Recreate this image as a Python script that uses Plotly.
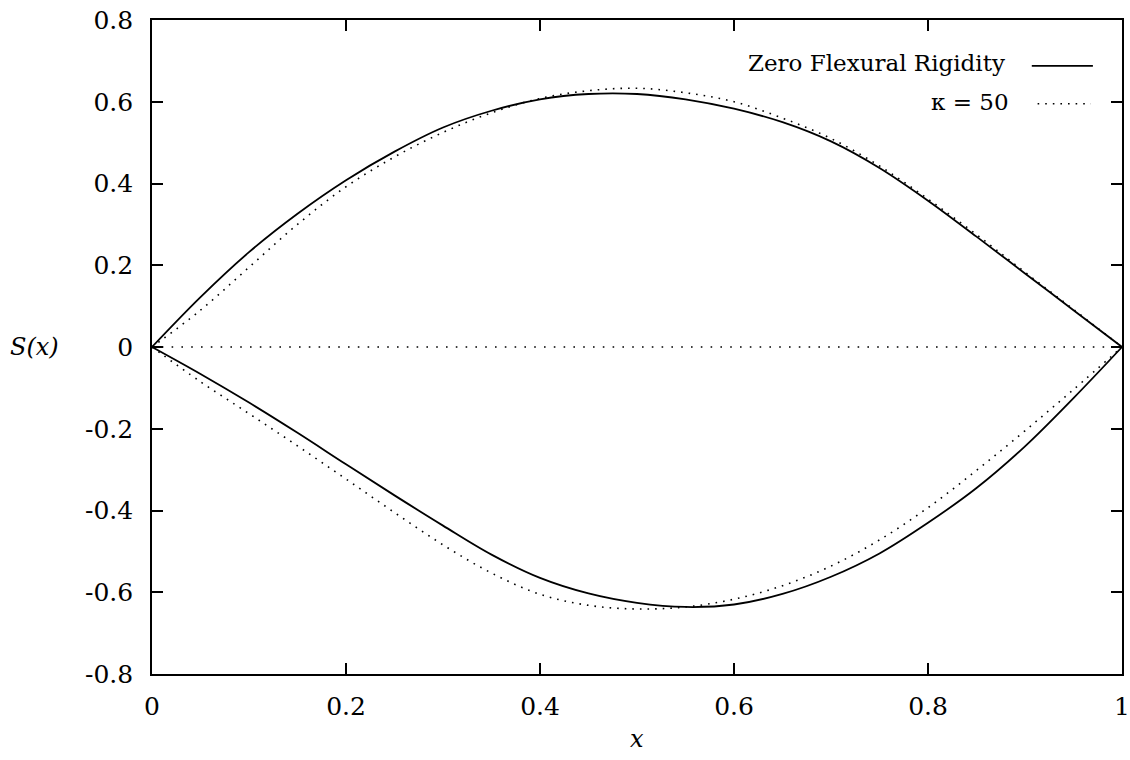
import plotly.graph_objects as go

# Sample positions along the strip
x = [0.00, 0.05, 0.10, 0.15, 0.20, 0.25, 0.30, 0.35, 0.40, 0.45, 0.50,
     0.55, 0.60, 0.65, 0.70, 0.75, 0.80, 0.85, 0.90, 0.95, 1.00]

# Zero flexural rigidity: upper and lower branches of S(x)
rigid0_upper = [0.000, 0.122, 0.232, 0.326, 0.408, 0.478, 0.537, 0.578, 0.606, 0.619, 0.619,
                0.606, 0.583, 0.550, 0.503, 0.438, 0.358, 0.270, 0.180, 0.090, 0.000]
rigid0_lower = [0.000, -0.066, -0.136, -0.210, -0.287, -0.363, -0.437, -0.508, -0.565, -0.603, -0.626,
                -0.636, -0.630, -0.604, -0.562, -0.505, -0.430, -0.345, -0.243, -0.125, 0.000]

# kappa = 50: upper and lower branches of S(x)
kappa50_upper = [0.000, 0.090, 0.195, 0.300, 0.392, 0.465, 0.525, 0.573, 0.608, 0.627, 0.633,
                 0.622, 0.600, 0.560, 0.510, 0.443, 0.362, 0.275, 0.183, 0.092, 0.000]
kappa50_lower = [0.000, -0.085, -0.163, -0.242, -0.323, -0.405, -0.484, -0.553, -0.605, -0.632, -0.641,
                 -0.636, -0.617, -0.584, -0.536, -0.472, -0.393, -0.302, -0.205, -0.104, 0.000]

# Flat reference state
flat_x = [0.0, 1.0]
flat_y = [0.0, 0.0]

x_ticks = [0, 0.2, 0.4, 0.6, 0.8, 1]
x_ticktext = ["0", "0.2", "0.4", "0.6", "0.8", "1"]
y_ticks = [-0.8, -0.6, -0.4, -0.2, 0, 0.2, 0.4, 0.6, 0.8]
y_ticktext = ["-0.8", "-0.6", "-0.4", "-0.2", "0", "0.2", "0.4", "0.6", "0.8"]

legend_labels = ["Zero Flexural Rigidity", "κ = 50"]

FONT = "DejaVu Serif"
TICK_TXT = dict(family=FONT, size=25, color="black")
KEY_TXT = dict(family=FONT, size=23, color="black")
TITLE_TXT = dict(family=FONT, size=24, color="black")
SOLID = dict(color="black", width=1.8, shape="spline", smoothing=1.0)
DOTTED = dict(color="black", width=1.6, dash="1.6px,6px", shape="spline", smoothing=1.0)

fig = go.Figure()
for ys in (rigid0_upper, rigid0_lower):
    fig.add_trace(go.Scatter(x=x, y=ys, mode="lines", line=SOLID,
                             showlegend=False, hoverinfo="skip"))
for ys in (kappa50_upper, kappa50_lower):
    fig.add_trace(go.Scatter(x=x, y=ys, mode="lines", line=DOTTED,
                             showlegend=False, hoverinfo="skip"))
fig.add_trace(go.Scatter(x=flat_x, y=flat_y, mode="lines",
                         line=dict(color="black", width=1.6, dash="1.6px,8.2px"),
                         showlegend=False, hoverinfo="skip"))

axis_common = dict(
    showline=True, linecolor="black", linewidth=1.6, mirror="ticks",
    ticks="inside", ticklen=11, tickwidth=1.5, tickcolor="black",
    showgrid=False, zeroline=False, automargin=False,
    tickfont=TICK_TXT,
)

fig.update_xaxes(range=[0, 1], tickvals=x_ticks, ticktext=x_ticktext,
                 ticklabelstandoff=9, **axis_common)
fig.update_yaxes(range=[-0.8, 0.8], tickvals=y_ticks, ticktext=y_ticktext,
                 ticklabelstandoff=12, **axis_common)

# Hand-built key: right-aligned labels followed by line samples
annotations = [
    dict(text=legend_labels[0], x=0.881, y=0.934, xref="paper", yref="paper",
         xanchor="right", yanchor="middle", showarrow=False, font=KEY_TXT),
    dict(text=legend_labels[1], x=0.886, y=0.875, xref="paper", yref="paper",
         xanchor="right", yanchor="middle", showarrow=False, font=KEY_TXT),
    dict(text="<i>x</i>", x=0.5, y=-0.099, xref="paper", yref="paper",
         xanchor="center", yanchor="middle", showarrow=False, font=TITLE_TXT),
    dict(text="<i>S(x)</i>", x=-0.121, y=0.5, xref="paper", yref="paper",
         xanchor="center", yanchor="middle", showarrow=False, font=TITLE_TXT),
]

shapes = [
    dict(type="line", xref="paper", yref="paper", x0=0.907, x1=0.970, y0=0.930, y1=0.930,
         line=dict(color="black", width=1.8)),
    dict(type="line", xref="paper", yref="paper", x0=0.913, x1=0.968, y0=0.872, y1=0.872,
         line=dict(color="black", width=1.6, dash="1.6px,6px")),
]

fig.update_layout(
    width=1130, height=760,
    margin=dict(l=152, r=8, t=20, b=86),
    paper_bgcolor="white", plot_bgcolor="white",
    font=TITLE_TXT,
    annotations=annotations, shapes=shapes,
    showlegend=False,
)

fig.write_html("out.html")
